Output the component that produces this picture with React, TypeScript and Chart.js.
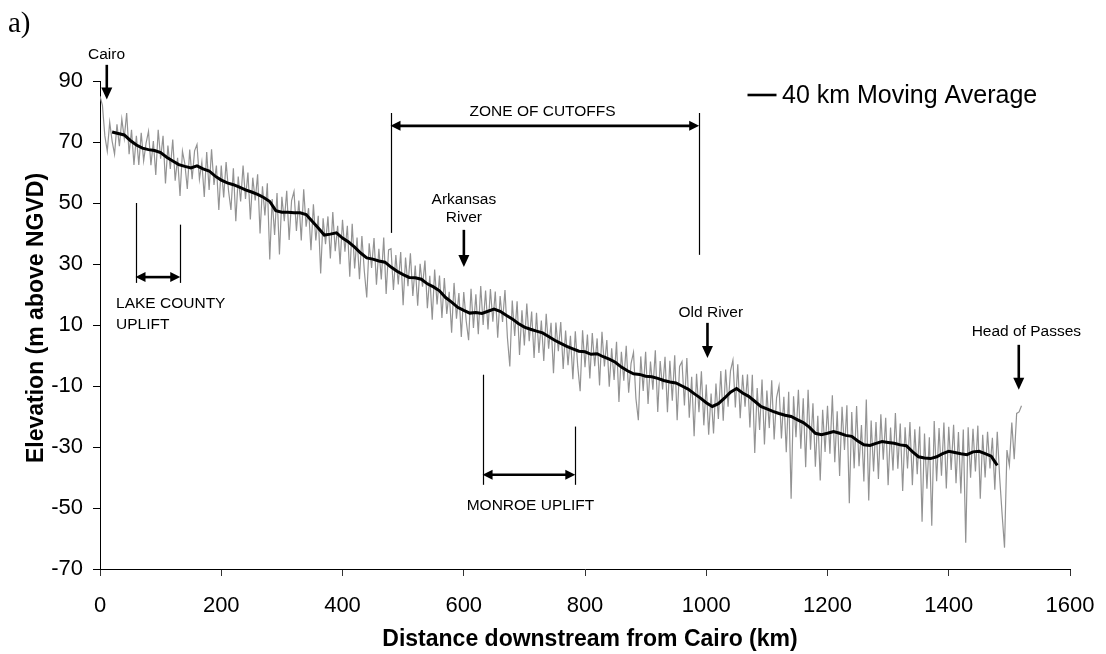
import React, { useEffect, useRef } from "react";
import { Chart, registerables } from "chart.js";

Chart.register(...registerables);

// ---------- data ----------
const X_TICKS = [0, 200, 400, 600, 800, 1000, 1200, 1400, 1600];
const Y_TICKS = [-70, -50, -30, -10, 10, 30, 50, 70, 90];

const RAW_START_KM = 0;
const RAW_STEP_KM = 4;
// surveyed thalweg / bed elevation (m above NGVD), every 4 km
const ELEVATION_RAW = [
  85, 82, 72, 67, 76.5, 70.3, 66, 75.8, 68.6, 77.5, 71.3, 79.5, 66, 74, 62.5, 72, 62.5, 73, 63.8, 69.6,
  73.5, 62.4, 70.3, 59.2, 74, 64.5, 72, 56.4, 68.8, 61.2, 70.8, 57.3, 64.8, 52.3, 67, 62.8, 54.6, 67.5, 57.8, 67.1,
  69.2, 57.8, 63.4, 52, 66.7, 54.3, 67.6, 55.9, 62.3, 47.7, 62.3, 51.8, 63.4, 54, 47.7, 61.4, 44, 58.7, 50.5, 62.3,
  51.3, 60, 44.6, 58.3, 50.8, 59.4, 40, 55.5, 45.9, 56.5, 31.5, 51.3, 39.5, 53.3, 33.1, 52, 44, 54, 37.9, 50.8,
  53.8, 40.8, 50.8, 37.7, 54.5, 42.2, 48.3, 34.5, 49.6, 37.7, 45.8, 26.9, 45, 36.5, 45.6, 31.8, 47, 34.2, 42.5, 29.9,
  44.5, 34, 42.5, 25.8, 43.2, 28.5, 38.7, 25, 39.2, 27.6, 19, 36.8, 28.7, 38.5, 23.2, 35, 24.9, 38.7, 20.2, 34.6,
  35, 21.5, 32.9, 23.3, 33.9, 16.5, 32.1, 22.7, 33.5, 19.5, 29.5, 16.3, 30.1, 22.6, 31.1, 15.5, 26.1, 11.7, 28.2, 16.7,
  26.2, 12.3, 25.4, 13.6, 20.9, 7.5, 23.8, 12.1, 20.5, 6.1, 20.8, 11.4, 5, 21.9, 9, 20.1, 7, 22.8, 10, 21.3,
  8.5, 21.8, 11.1, 21, 5.8, 19.5, 11, 21.5, 5.9, -3.6, 18, 6.4, 17.8, 0.2, 14.8, 3.3, 17, 4.7, 14.4, -0.8,
  14, 0.8, 11.5, -1.8, 13.7, 2.2, 10.7, -5.8, 10.8, 1.4, 11, -4.4, 8.2, -3.2, 6.5, -7.8, 7.9, -3.5, -11.7, 8.3,
  -3.8, 6.9, -7.5, 7.4, -3.5, 5.6, -9.8, 7.8, -3.6, 5.1, -10.2, 2.4, -8, 4.5, -15.2, 1.2, -8.3, 3.2, -12.2, -2.6,
  1, -14.1, -21.2, -0.3, -11.6, 1.2, -15.9, -2, -11.2, 1.7, -18.5, -1.8, -11.1, -0.4, -18.6, -1.7, -14.8, 0.1, -21.2, -3.6,
  -2, -16.4, -0.8, -20.4, -7, -26.5, -6, -18.6, -5.2, -22.9, -9.5, -26, -12.5, -25.6, -9.2, -20.8, -5.1, -21.4, -4.6, -16.8,
  -5, -1.5, -17, -2.9, -20.6, -6.3, -16.8, -6.2, -23.6, -6.3, -32, -10.7, -24.4, -7.9, -29.2, -11.5, -23.8, -8.1, -27.5, -13.8,
  -10, -27.2, -13.5, -31.7, -11.9, -47, -13.4, -26.8, -11.2, -30.6, -14, -36.6, -11.2, -30.9, -15.7, -36.5, -19.8, -41, -17.8, -31.6,
  -16.5, -32.2, -13, -35, -18.3, -39.5, -16.8, -31, -16.3, -48.4, -18.5, -37, -16.6, -36.3, -22.8, -41.3, -14.4, -47.5, -21.3, -38,
  -21.8, -40.5, -19.3, -34.2, -20.4, -42.5, -23.6, -37.7, -18.9, -37.1, -22.3, -44.4, -23.5, -37, -21.8, -42.5, -24.2, -38.9, -23.3, -54.5,
  -25.6, -43.7, -26.8, -55.8, -21.5, -41.2, -23.8, -39.4, -22, -43.6, -23.4, -37.5, -22.7, -41.9, -25.1, -45.2, -24.3, -61.4, -23.5, -40.1,
  -24, -38, -23, -47, -26, -40, -25, -37, -27, -44, -25, -40, -52, -63, -31, -36, -22, -34, -19, -18.5,
  -16.5,
];

const MA_START_KM = 20;
const MA_STEP_KM = 10;
// 40 km moving average, every 10 km
const ELEVATION_MA = [
  73.3, 72.8, 72.3, 70.5, 69, 68, 67.5, 67.2, 66.5, 65, 63.8, 62.6, 62, 61.5, 62.2, 61.2, 60.5, 58.8,
  57.5, 56.6, 56, 55.2, 54.3, 53.6, 52.8, 51.8, 50.5, 47.5, 47, 47, 46.8, 46.8, 46.2, 44, 41.8, 39.5,
  39.8, 40.2, 38.5, 37.2, 35.5, 33.6, 32, 31.6, 31, 30.6, 29, 27.6, 26.5, 25.6, 25.5, 25, 23.5, 22.5,
  21.2, 19, 17.5, 15.8, 14.8, 13.9, 14.1, 13.8, 14.5, 15.2, 14.5, 13.2, 12, 10.5, 9.3, 8.6, 8, 7.4,
  6.2, 5, 4, 3, 2.2, 1.4, 1.2, 0.4, 0.6, -0.4, -1.2, -2.2, -3.8, -5, -6, -6.2, -6.8, -7, -7.5, -8.2,
  -8.7, -9, -10, -11, -12.5, -13.9, -15.5, -16.7, -15.8, -14, -12, -10.8, -12.3, -13.4, -15, -16.7,
  -17.5, -18.3, -19, -19.6, -20, -21, -22, -23.5, -25.5, -26, -25.5, -24.9, -25.5, -26.2, -26.5, -28,
  -29.3, -29.5, -28.8, -28.2, -28.5, -28.8, -29.3, -29.6, -31.5, -33.2, -33.6, -33.8, -33.2, -32.2,
  -31.4, -31.8, -32.2, -32.5, -31.6, -31.4, -32.2, -33, -36,
];

const LEGEND_LABEL = "40 km Moving Average";
const RAW_LABEL = "Elevation";
const X_TITLE = "Distance downstream from Cairo (km)";
const Y_TITLE = "Elevation (m above NGVD)";
const PANEL_LABEL = "a)";

// annotations in data units: [text, km, elevation, align]
const NOTE_TEXTS: [string, number, number, CanvasTextAlign][] = [
  ["Cairo", 10.7, 98.6, "center"],
  ["ZONE OF CUTOFFS", 730, 79.9, "center"],
  ["Arkansas", 600.2, 51.1, "center"],
  ["River", 600.2, 45.1, "center"],
  ["LAKE COUNTY", 26.5, 17, "left"],
  ["UPLIFT", 26.5, 10, "left"],
  ["MONROE UPLIFT", 710, -49.3, "center"],
  ["Old River", 1007.6, 13.9, "center"],
  ["Head of Passes", 1528, 7.9, "center"],
];
// pointer arrows (km, from elevation, to elevation)
const POINTER_ARROWS: [number, number, number][] = [
  [11.2, 95.3, 83.9],
  [600.2, 41.2, 29],
  [1002, 10.7, -0.8],
  [1515.5, 3.5, -11.2],
];
// bracket lines (km, top, bottom)
const BRACKET_LINES: [number, number, number][] = [
  [479.2, 79.5, 40.2],
  [988.3, 79.5, 33],
  [58.6, 50, 23.8],
  [132.4, 42.9, 23.8],
  [631, -6.3, -42.4],
  [784, -23.3, -42.4],
];
// double-headed spans (km from, km to, elevation)
const SPAN_ARROWS: [number, number, number][] = [
  [479.2, 988.3, 75.3],
  [58.6, 132.4, 25.7],
  [631, 784, -39.1],
];

// ---------- drawing helpers ----------
function head(ctx: CanvasRenderingContext2D, tx: number, ty: number, dx: number, dy: number, len: number, half: number) {
  const nx = -dy, ny = dx;
  ctx.beginPath();
  ctx.moveTo(tx, ty);
  ctx.lineTo(tx - dx * len + nx * half, ty - dy * len + ny * half);
  ctx.lineTo(tx - dx * len - nx * half, ty - dy * len - ny * half);
  ctx.closePath();
  ctx.fill();
}

const annotationPlugin = {
  id: "riverNotes",
  afterDraw(chart: any) {
    const { ctx, chartArea } = chart;
    const xs = chart.scales.x;
    const ys = chart.scales.y;
    const px = (v: number) => xs.getPixelForValue(v);
    const py = (v: number) => ys.getPixelForValue(v);
    ctx.save();
    ctx.fillStyle = "#000";
    ctx.strokeStyle = "#000";

    ctx.lineWidth = 1.2;
    for (const [km, t, b] of BRACKET_LINES) {
      const x = Math.round(px(km)) + 0.5;
      ctx.beginPath();
      ctx.moveTo(x, py(t));
      ctx.lineTo(x, py(b));
      ctx.stroke();
    }
    for (const [a, b, e] of SPAN_ARROWS) {
      const xa = px(a), xb = px(b), y = py(e);
      ctx.lineWidth = 2.6;
      ctx.beginPath();
      ctx.moveTo(xa + 8, y);
      ctx.lineTo(xb - 8, y);
      ctx.stroke();
      head(ctx, xa, y, -1, 0, 10, 5);
      head(ctx, xb, y, 1, 0, 10, 5);
    }
    for (const [km, f, t] of POINTER_ARROWS) {
      const x = px(km), y0 = py(f), y1 = py(t);
      ctx.lineWidth = 2.6;
      ctx.beginPath();
      ctx.moveTo(x, y0);
      ctx.lineTo(x, y1 - 9);
      ctx.stroke();
      head(ctx, x, y1, 0, 1, 12, 5.5);
    }
    ctx.font = "15.5px 'Liberation Sans', Arial, sans-serif";
    ctx.textBaseline = "middle";
    for (const [txt, km, e, al] of NOTE_TEXTS) {
      ctx.textAlign = al;
      ctx.fillText(txt, px(km), py(e));
    }

    // legend
    const ly = chartArea.top + 14;
    ctx.lineWidth = 2.6;
    ctx.beginPath();
    ctx.moveTo(chartArea.right - 322.5, ly);
    ctx.lineTo(chartArea.right - 293.5, ly);
    ctx.stroke();
    ctx.font = "25px 'Liberation Sans', Arial, sans-serif";
    ctx.textAlign = "left";
    ctx.textBaseline = "middle";
    ctx.fillText(LEGEND_LABEL, chartArea.right - 288, ly + 1);

    // axis titles
    ctx.font = "bold 23px 'Liberation Sans', Arial, sans-serif";
    ctx.textAlign = "center";
    ctx.textBaseline = "middle";
    ctx.fillText(X_TITLE, (chartArea.left + chartArea.right) / 2 + 5, chartArea.bottom + 71);
    ctx.save();
    ctx.translate(chartArea.left - 63, (chartArea.top + chartArea.bottom) / 2 - 7);
    ctx.rotate(-Math.PI / 2);
    ctx.fillText(Y_TITLE, 0, 0);
    ctx.restore();

    // panel label
    ctx.font = "29px 'Liberation Serif', 'Times New Roman', serif";
    ctx.textAlign = "left";
    ctx.textBaseline = "alphabetic";
    ctx.fillText(PANEL_LABEL, 8, 32);

    ctx.restore();
  },
};

export default function App() {
  const ref = useRef<HTMLCanvasElement | null>(null);

  useEffect(() => {
    document.body.style.margin = "0";
    const canvas = ref.current;
    if (!canvas) return;
    const raw = ELEVATION_RAW.map((v, i) => ({ x: RAW_START_KM + i * RAW_STEP_KM, y: v }));
    const ma = ELEVATION_MA.map((v, i) => ({ x: MA_START_KM + i * MA_STEP_KM, y: v }));

    const chart = new Chart(canvas, {
      type: "line",
      data: {
        datasets: [
          {
            label: LEGEND_LABEL,
            data: ma,
            borderColor: "#000",
            borderWidth: 3,
            pointRadius: 0,
            tension: 0,
            order: 0,
          },
          {
            label: RAW_LABEL,
            data: raw,
            borderColor: "#939393",
            borderWidth: 1.2,
            pointRadius: 0,
            tension: 0,
            order: 1,
          },
        ],
      },
      options: {
        animation: false,
        responsive: false,
        devicePixelRatio: 1,
        parsing: false,
        layout: { padding: { top: 81, right: 36, left: 0, bottom: 0 } },
        plugins: { legend: { display: false }, tooltip: { enabled: false }, title: { display: false } },
        scales: {
          x: {
            type: "linear",
            min: X_TICKS[0],
            max: X_TICKS[X_TICKS.length - 1],
            afterBuildTicks: (s: any) => {
              s.ticks = X_TICKS.map((v) => ({ value: v }));
            },
            afterFit: (s: any) => {
              s.height = 85;
              s.paddingRight = 0;
              s.paddingLeft = 0;
            },
            grid: { drawOnChartArea: false, drawTicks: true, tickLength: 7, color: "#333", lineWidth: 1 },
            border: { display: true, color: "#000", width: 1 },
            ticks: {
              color: "#000",
              font: { family: "'Liberation Sans', Arial, sans-serif", size: 22 },
              padding: 17,
              maxRotation: 0,
              autoSkip: false,
              callback: (v: any) => String(v),
            },
          },
          y: {
            type: "linear",
            min: Y_TICKS[0],
            max: Y_TICKS[Y_TICKS.length - 1],
            afterBuildTicks: (s: any) => {
              s.ticks = Y_TICKS.map((v) => ({ value: v }));
            },
            afterFit: (s: any) => {
              s.width = 100;
              s.paddingTop = 0;
              s.paddingBottom = 0;
            },
            grid: { drawOnChartArea: false, drawTicks: true, tickLength: 7, color: "#000", lineWidth: 1 },
            border: { display: true, color: "#000", width: 1 },
            ticks: {
              color: "#000",
              font: { family: "'Liberation Sans', Arial, sans-serif", size: 22 },
              padding: 10,
              autoSkip: false,
              callback: (v: any) => String(v),
            },
          },
        },
      },
      plugins: [annotationPlugin],
    });
    return () => chart.destroy();
  }, []);

  return (
    <div style={{ width: 1106, height: 654, position: "relative", background: "#fff" }}>
      <canvas ref={ref} width={1106} height={654} style={{ width: 1106, height: 654, display: "block" }} />
    </div>
  );
}
